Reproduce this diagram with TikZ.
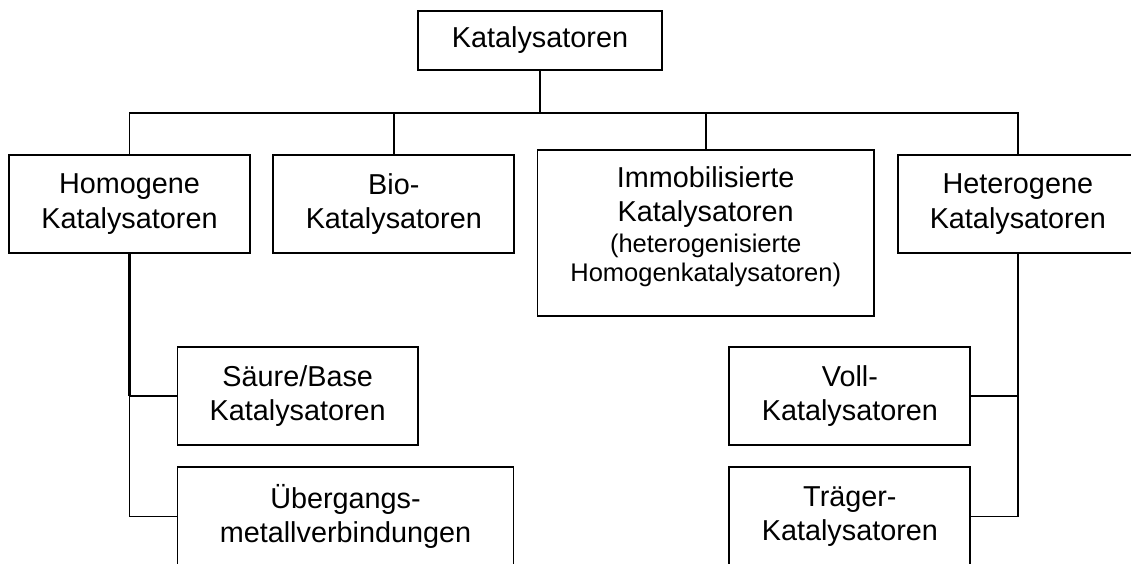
\documentclass[tikz,border=0pt]{standalone}
\usepackage{fontspec}
\setmainfont{Liberation Sans}
\begin{document}
\begin{tikzpicture}[x=1pt,y=-1pt,
  box/.style={draw=black,line width=1.9pt,inner sep=0pt,align=center,
    font=\fontsize{28.8}{34.3}\selectfont},
  conn/.style={draw=black,line width=1.9pt},
  thickconn/.style={draw=black,line width=2.4pt}]
\newcommand{\smallfnt}{\fontsize{25.5}{29.5}\selectfont}
\useasboundingbox (0,0) rectangle (1131,563);
\clip (0,0) rectangle (1131,563);
\fill[white] (0,0) rectangle (1131,563);
% nodes
\node[box,minimum width=244pt,minimum height=59.6pt] (top) at (540,40.5) {Katalysatoren};
\node[box,minimum width=241pt,minimum height=98.6pt] (hom) at (129.5,204) {Homogene\\Katalysatoren};
\node[box,minimum width=241pt,minimum height=98.6pt] (bio) at (393.8,204) {Bio-\\Katalysatoren};
\node[box,minimum width=336.5pt,minimum height=166pt,text depth=17.7pt] (imm) at (705.7,233)
  {Immobilisierte\\Katalysatoren\\[-3.6pt]{\smallfnt (heterogenisierte}\\[-5.5pt]{\smallfnt Homogenkatalysatoren)}};
\node[box,minimum width=240.4pt,minimum height=98.6pt] (het) at (1017.8,204) {Heterogene\\Katalysatoren};
\node[box,minimum width=240.4pt,minimum height=98.3pt] (sb) at (297.7,395.8) {Säure/Base\\Katalysatoren};
\node[box,minimum width=336pt,minimum height=98.3pt] (ueb) at (345.5,516.5) {Übergangs-\\metallverbindungen};
\node[box,minimum width=241pt,minimum height=98.3pt] (voll) at (849.9,395.8) {Voll-\\Katalysatoren};
\node[box,minimum width=241pt,minimum height=98.3pt] (trae) at (849.9,516.5) {Träger-\\Katalysatoren};
\coordinate (bus) at (540,112.7);
% connectors
\draw[thickconn] (top.south) -- (bus);
\draw[conn] (hom.north) |- (bio.north |- bus);
\draw[thickconn] (bio.north |- bus) -- (imm.north |- bus);
\draw[conn] (imm.north |- bus) -| (het.north);
\draw[conn] (bio.north) -- (bio.north |- bus);
\draw[conn] (imm.north) -- (imm.north |- bus);
\draw[thickconn] (hom.south) -- (hom.south |- sb.west);
\draw[conn] (hom.south |- sb.west) |- (ueb.west);
\draw[conn] (hom.south |- sb.west) -- (sb.west);
\draw[conn] (het.south) |- (trae.east);
\draw[conn] (het.south |- voll.east) -- (voll.east);
\end{tikzpicture}
\end{document}
